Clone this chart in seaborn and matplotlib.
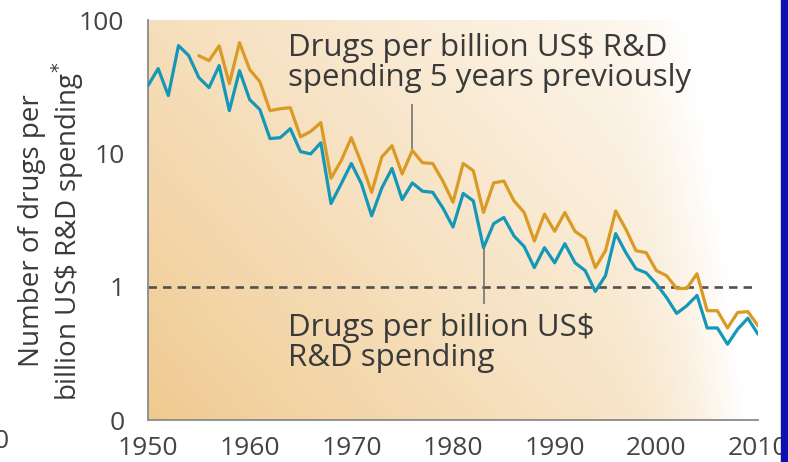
import numpy as np
import pandas as pd
import seaborn as sns
import matplotlib.pyplot as plt
from matplotlib.patches import Rectangle

sns.set_theme(style="white")
plt.rcParams["font.family"] = ["Open Sans", "DejaVu Sans"]

# Data (log scale)
years_now = list(range(1950, 2011))
drugs_per_bn = [32.2, 43.2, 27.1, 64.3, 54.1, 37.0, 31.1, 45.5, 20.9, 41.7,
                25.3, 21.3, 12.9, 13.1, 15.3, 10.3, 9.9, 12.0, 4.2, 5.9,
                8.4, 5.9, 3.4, 5.5, 7.7, 4.5, 6.0, 5.2, 5.1, 3.9,
                2.8, 5.0, 4.4, 1.96, 2.97, 3.3, 2.4, 2.0, 1.39, 1.96,
                1.51, 2.1, 1.51, 1.32, 0.92, 1.21, 2.5, 1.8, 1.36, 1.27,
                1.05, 0.83, 0.63, 0.72, 0.86, 0.49, 0.49, 0.37, 0.48, 0.58,
                0.44]

years_lag = list(range(1955, 2011))
drugs_per_bn_lag5 = [54.0, 49.6, 64.0, 33.3, 67.6,
                     42.5, 34.5, 20.9, 21.6, 22.0, 13.3, 14.6, 17.0, 6.5, 8.8,
                     13.1, 8.4, 5.1, 9.4, 11.4, 7.0, 10.5, 8.5, 8.4, 6.2,
                     4.3, 8.4, 7.4, 3.6, 6.0, 6.2, 4.4, 3.6, 2.2, 3.5,
                     2.6, 3.6, 2.6, 2.3, 1.39, 1.86, 3.7, 2.7, 1.86, 1.8,
                     1.32, 1.21, 0.97, 0.97, 1.25, 0.66, 0.66, 0.49, 0.64, 0.65,
                     0.51]

df_now = pd.DataFrame({"year": years_now, "value": drugs_per_bn})
df_lag = pd.DataFrame({"year": years_lag, "value": drugs_per_bn_lag5})

orange = "#d99a26"
teal = "#1598b8"
text_col = "#3a3a3a"
axis_col = "#8a8a8a"

fig = plt.figure(figsize=(7.88, 4.62), dpi=100)
ax = fig.add_axes([148 / 788, 42 / 462, 610 / 788, 400 / 462])

# background gradient: orange at bottom-left fading to white at top-right
gx, gy = np.meshgrid(np.linspace(0, 1, 300), np.linspace(1, 0, 200))
t = 0.6 * gx + 0.35 * gy
t = t + np.clip((gx - 0.75) / 0.25, 0, 1) ** 2 * 0.5
t = np.clip(t, 0, 1) ** 0.9
c0 = np.array([0.94, 0.79, 0.56])
img = c0[None, None, :] * (1 - t[..., None]) + np.ones(3)[None, None, :] * t[..., None]
ax.imshow(img, extent=[0, 1.004, 0, 1], transform=ax.transAxes, aspect="auto", zorder=0)

sns.lineplot(data=df_lag, x="year", y="value", color=orange, linewidth=2.3, ax=ax, zorder=3)
sns.lineplot(data=df_now, x="year", y="value", color=teal, linewidth=2.3, ax=ax, zorder=4)

ax.axhline(1, color="#505050", linestyle=(0, (3.2, 2.3)), linewidth=1.9, zorder=2)

ax.set_yscale("log")
ax.set_ylim(0.1, 100)
ax.set_xlim(1950, 2010)
ax.set_yticks([0.1, 1, 10, 100])
ax.set_yticklabels(["0", "1", "10", "100"])
ax.minorticks_off()
ax.set_xticks(range(1950, 2011, 10))
ax.set_xlabel("")
ax.set_ylabel("")

for side in ["top", "right"]:
    ax.spines[side].set_visible(False)
for side in ["left", "bottom"]:
    ax.spines[side].set_color(axis_col)
    ax.spines[side].set_linewidth(1.3)
ax.tick_params(axis="both", direction="out", width=1.3, color=axis_col,
               labelcolor="#444444", labelsize=19)
ax.tick_params(axis="x", length=9.5, pad=2)
ax.tick_params(axis="y", length=11, pad=6)

# leader lines
ax.vlines(1976, 10.8, 23.6, color="#6a6a6a", linewidth=1.1, zorder=5)
ax.vlines(1983, 0.745, 1.96, color="#6a6a6a", linewidth=1.1, zorder=5)

ax.text(0.2295, (420 - 86) / 400,
        "Drugs per billion US$ R&D\nspending 5 years previously",
        transform=ax.transAxes, ha="left", va="baseline", fontsize=22.5,
        color=text_col, linespacing=1.0)
ax.text(0.2295, (420 - 366) / 400, "Drugs per billion US$\nR&D spending",
        transform=ax.transAxes, ha="left", va="baseline", fontsize=22.5,
        color=text_col, linespacing=1.0)

fig.text(52 / 788, 0.5, "Number of drugs per\nbillion US\\$ R&D spending$^{*}$",
         rotation=90, ha="center", va="center", fontsize=20, color=text_col,
         linespacing=1.1, multialignment="center")

# stray label at the left edge and blue bar on the right
fig.text(0.002, 1 - 448 / 462, "0", ha="center", va="baseline", fontsize=19, color="#444444")
fig.patches.append(Rectangle((781 / 788, 0), 7 / 788, 1, transform=fig.transFigure,
                             color="#1010b0", figure=fig))

fig.savefig("out.png", dpi=100)
